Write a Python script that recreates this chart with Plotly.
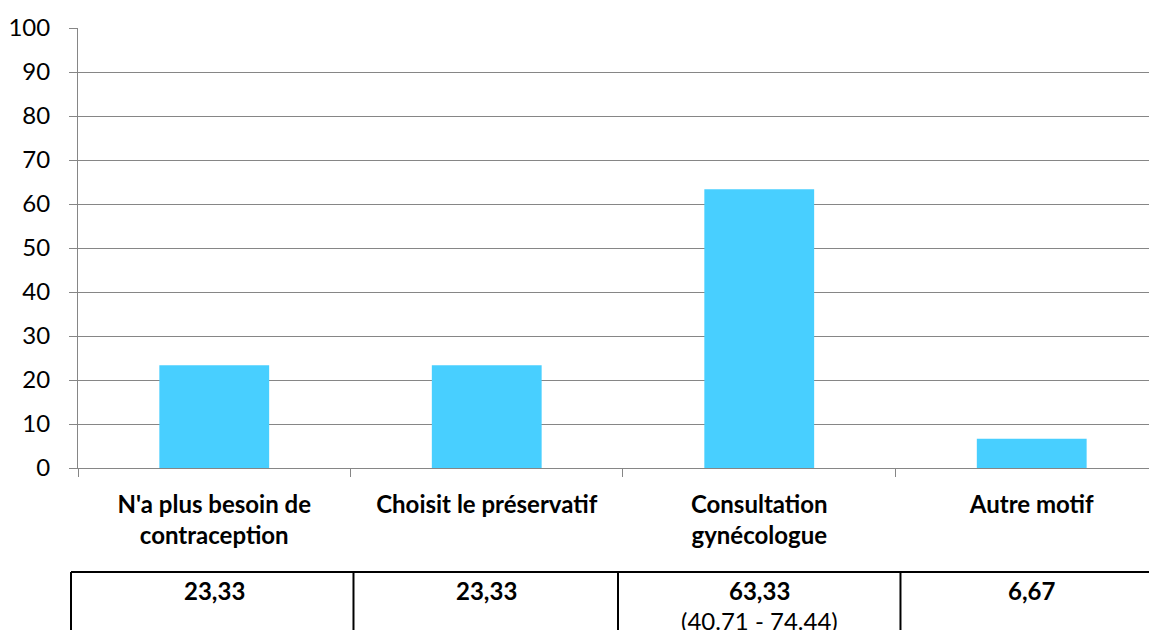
import plotly.graph_objects as go

categories = ["N'a plus besoin de<br>contraception", "Choisit le préservatif",
              "Consultation<br>gynécologue", "Autre motif"]
values = [23.33, 23.33, 63.33, 6.67]
value_labels = ["23,33", "23,33", "63,33", "6,67"]
ci_labels = ["", "", "(40.71 - 74.44)", ""]
y_ticks = list(range(0, 101, 10))

OFF = 8  # page body margin
W, H = 1157 - OFF, 630 - OFF
L = 76 - OFF
T = 28 - OFF
B = H - (468 - OFF)
plot_h = H - T - B
plot_w = W - L

def py(p):  # screen pixel y -> paper
    return ((468) - p) / plot_h

def px(p):  # screen pixel x -> paper
    return (p - 76) / plot_w

font = "Lato, 'Open Sans', sans-serif"
FS = 24

fig = go.Figure(go.Bar(x=categories, y=values, marker=dict(color="#48CFFF", line=dict(width=0)),
                       hoverinfo="skip"))

shapes = []
shapes.append(dict(type="line", xref="paper", yref="paper", x0=px(69), x1=px(1220),
                   y0=py(572), y1=py(572), line=dict(color="black", width=2)))
for xv in [69, 352, 617, 900]:
    shapes.append(dict(type="line", xref="paper", yref="paper", x0=px(xv), x1=px(xv),
                       y0=py(572), y1=py(660), line=dict(color="black", width=2)))

annotations = []
for c, v, ci in zip(categories, value_labels, ci_labels):
    annotations.append(dict(x=c, xref="x", y=py(590), yref="paper", text="<b>%s</b>" % v,
                            showarrow=False, font=dict(family=font, size=FS, color="black"),
                            xanchor="center", yanchor="middle"))
    if ci:
        annotations.append(dict(x=c, xref="x", y=py(620), yref="paper", text=ci,
                                showarrow=False, font=dict(family=font, size=FS, color="black"),
                                xanchor="center", yanchor="middle"))

fig.update_layout(
    width=W, height=H,
    margin=dict(l=L, r=0, t=T, b=B, pad=0),
    paper_bgcolor="white", plot_bgcolor="white",
    bargap=0.597,
    showlegend=False,
    shapes=shapes,
    annotations=annotations,
    font=dict(family=font, size=FS, color="black"),
    xaxis=dict(
        range=[-0.5, -0.5 + plot_w / 273.0],
        tickmode="array", tickvals=categories,
        ticktext=["<b>%s</b>" % c for c in categories],
        tickson="boundaries", ticks="outside", ticklen=8, tickcolor="#868686",
        showline=True, linecolor="#868686", linewidth=1,
        showgrid=False, ticklabelstandoff=15,
        tickfont=dict(family=font, size=FS, color="black"),
        fixedrange=True,
    ),
    yaxis=dict(
        range=[0, 100], tickvals=y_ticks,
        ticks="outside", ticklen=8, tickcolor="#868686",
        showline=True, linecolor="#868686", linewidth=1,
        showgrid=True, gridcolor="#868686", gridwidth=1,
        zeroline=False,
        tickfont=dict(family=font, size=FS, color="black"),
        ticklabelstandoff=14,
        fixedrange=True,
    ),
)

fig.write_html("out.html")
